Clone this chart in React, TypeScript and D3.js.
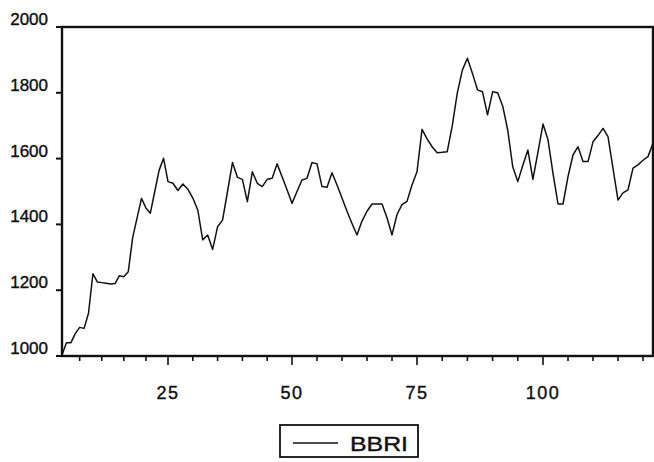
import React from "react";
import * as d3 from "d3";

const seriesName = "BBRI";
const obs: number[] = d3.range(1, 123);
const bbri: number[] = [
  1003, 1040, 1040, 1068, 1087, 1084, 1130, 1250, 1225, 1223,
  1221, 1219, 1220, 1244, 1241, 1256, 1360, 1420, 1479, 1450,
  1434, 1500, 1565, 1601, 1530, 1525, 1503, 1523, 1507, 1480,
  1444, 1353, 1368, 1324, 1393, 1413, 1500, 1588, 1543, 1537,
  1469, 1560, 1525, 1515, 1537, 1540, 1584, 1545, 1505, 1464,
  1500, 1535, 1540, 1588, 1584, 1515, 1513, 1557, 1520, 1480,
  1440, 1403, 1368, 1410, 1440, 1462, 1462, 1462, 1420, 1368,
  1430, 1460, 1470, 1520, 1560, 1689, 1660, 1636, 1618, 1619,
  1621, 1700, 1800, 1869, 1905, 1859, 1809, 1803, 1733, 1803,
  1800, 1760, 1687, 1575, 1530, 1580, 1626, 1537, 1620, 1705,
  1657, 1555, 1462, 1462, 1545, 1611, 1636, 1591, 1591, 1651,
  1670, 1692, 1667, 1570, 1474, 1496, 1505, 1571, 1581, 1595,
  1606, 1647,
];
const yTicks: number[] = [1000, 1200, 1400, 1600, 1800, 2000];
const xMajorTicks: number[] = [25, 50, 75, 100];
const xMinorTicks: number[] = d3.range(5, 121, 5);

export default function App() {
  const W = 654;
  const H = 462;
  // piecewise scale following the scanned axis spacing
  const x = d3
    .scaleLinear()
    .domain([1, 25, 50, 75, 100, 122])
    .range([62, 168, 292, 417, 543, 653]);
  const y = d3.scaleLinear().domain([1000, 2000]).range([356, 27]);

  const line = d3
    .line<number>()
    .x((_, i) => x(obs[i]))
    .y((d) => y(d));

  const left = x(1);
  const right = x(122);
  const top = y(2000);
  const bottom = y(1000);
  const font = "'Liberation Sans', Arial, Helvetica, sans-serif";

  return (
    <svg
      width={W}
      height={H}
      style={{ position: "absolute", left: 0, top: 0, background: "#fff" }}
    >
      <rect x={0} y={0} width={W} height={H} fill="#fff" />
      {/* frame */}
      <rect
        x={left}
        y={top}
        width={right - left}
        height={bottom - top}
        fill="none"
        stroke="#111"
        strokeWidth={2.4}
      />
      {/* y ticks */}
      {yTicks.map((t) => (
        <g key={"y" + t}>
          <line x1={left - 6} x2={left} y1={y(t)} y2={y(t)} stroke="#111" strokeWidth={2} />
          <text
            x={48}
            y={y(t) - 2}
            textAnchor="end"
            fontFamily={font}
            fontSize={17}
            fill="#111"
            stroke="#111"
            strokeWidth={0.4}
          >
            {t}
          </text>
        </g>
      ))}
      {/* x minor ticks */}
      {xMinorTicks.map((t) => (
        <line
          key={"xm" + t}
          x1={x(t)}
          x2={x(t)}
          y1={bottom}
          y2={bottom + (xMajorTicks.includes(t) ? 9 : 5)}
          stroke="#111"
          strokeWidth={1.6}
        />
      ))}
      {xMajorTicks.map((t) => (
        <text
          key={"xl" + t}
          x={x(t)}
          y={399}
          textAnchor="middle"
          fontFamily={font}
          fontSize={18}
          letterSpacing={1.5}
          fill="#111"
          stroke="#111"
          strokeWidth={0.4}
        >
          {t}
        </text>
      ))}
      {/* series */}
      <path d={line(bbri) || ""} fill="none" stroke="#111" strokeWidth={1.5} strokeLinejoin="round" />
      {/* legend */}
      <rect x={280} y={425} width={138} height={32} fill="#fff" stroke="#111" strokeWidth={1.8} />
      <line x1={293} x2={338} y1={443} y2={443} stroke="#111" strokeWidth={1.5} />
      <text
        x={350}
        y={451}
        fontFamily={font}
        fontSize={20}
        textLength={58}
        lengthAdjust="spacingAndGlyphs"
        fill="#111"
        stroke="#111"
        strokeWidth={0.4}
      >
        {seriesName}
      </text>
    </svg>
  );
}
